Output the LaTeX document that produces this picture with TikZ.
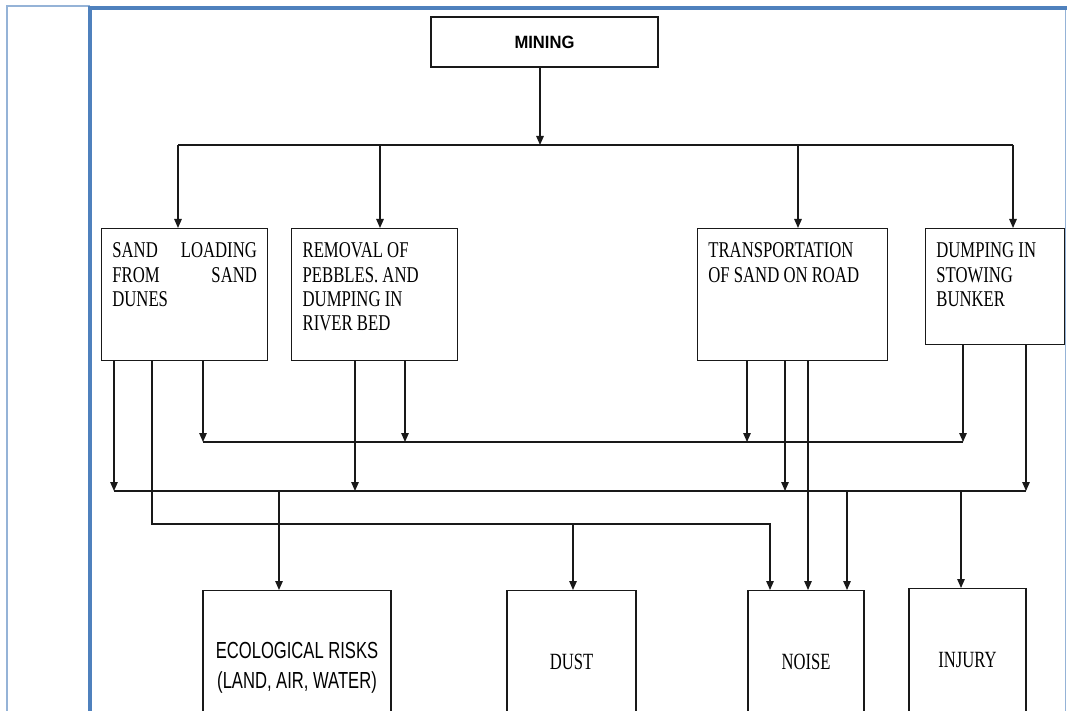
\documentclass[tikz,border=0pt]{standalone}
\usepackage{fontspec}
\setmainfont{Liberation Serif}
\newfontfamily\arialfont{Liberation Sans}
\usetikzlibrary{arrows.meta}
\definecolor{frameblue}{RGB}{79,129,189}
\definecolor{framelight}{RGB}{149,179,215}
\definecolor{linegray}{RGB}{25,25,25}
\newcommand{\topboxtext}[2]{\scalebox{1}[1.35]{\parbox[t]{#1}{\fontsize{16.7}{18.1}\selectfont #2}}}
\newcommand{\serifstretch}[1]{\scalebox{1}[1.4]{\fontsize{16.6}{18}\selectfont #1}}
\tikzset{
  conn/.style={draw=linegray, line width=1.3pt},
  arr/.style={conn, -{Triangle[length=9pt,width=7.5pt]}},
  topbox/.style={draw=linegray, line width=1.3pt, rectangle, anchor=north west,
    inner ysep=0pt, inner xsep=10.7pt, text height=29pt},
  botbox/.style={draw=linegray, line width=1.3pt, rectangle, anchor=north,
    inner sep=0pt, align=center},
  thickframe/.style={draw=frameblue, line width=4pt},
  thinframe/.style={draw=framelight, line width=2pt}
}
\begin{document}
\begin{tikzpicture}[x=1pt, y=-1pt]
\useasboundingbox (0,0) rectangle (1067,711);
\clip (0,0) rectangle (1067,711);
% frame
\draw[thinframe] (7,711) -- (7,6) -- (90,6);
\draw[thinframe, line width=1.5pt] (1065.5,10) -- (1065.5,711);
\draw[thickframe] (90,711) -- (90,8) -- (1067,8);

% nodes
\node[draw=linegray, line width=1.3pt, minimum width=227pt, minimum height=50pt, inner sep=0pt]
  (mining) at (544.5,42) {\scalebox{1}[1.07]{\arialfont\bfseries\fontsize{16.6}{18}\selectfont MINING}};

\node[topbox, text depth=103pt] (b1) at (101,228)
  {\topboxtext{144.6pt}{SAND\hfill LOADING\\ FROM\hfill SAND\\ DUNES}};
\node[topbox, inner xsep=11pt, text depth=103pt] (b2) at (291,228)
  {\topboxtext{144pt}{\raggedright REMOVAL OF\\ PEBBLES. AND\\ DUMPING IN\\ RIVER BED}};
\node[topbox, text depth=103pt] (b3) at (697,228)
  {\topboxtext{168.6pt}{\raggedright TRANSPORTATION\\ OF SAND ON ROAD}};
\node[topbox, text depth=87pt] (b4) at (925,228)
  {\topboxtext{117.6pt}{\raggedright DUMPING IN\\ STOWING\\ BUNKER}};

\node[botbox, minimum width=188pt, minimum height=154pt] (eco) at (297,590)
  {\scalebox{1}[1.4]{\parbox{180pt}{\centering\arialfont\fontsize{16.6}{21.9}\selectfont ECOLOGICAL RISKS\\ (LAND, AIR, WATER)}}};
\node[botbox, minimum width=129pt, minimum height=142pt] (dust) at (571.5,590)
  {\serifstretch{DUST}};
\node[botbox, minimum width=116pt, minimum height=142pt] (noise) at (806,590)
  {\serifstretch{NOISE}};
\node[botbox, minimum width=117pt, minimum height=143pt] (injury) at (967.5,588)
  {\serifstretch{INJURY}};

% top distribution
\coordinate (tb) at (540,145);
\coordinate (tL) at (178,145);
\coordinate (tR) at (1013,145);
\coordinate (t2) at (380,145);
\coordinate (t3) at (798,145);
\draw[arr] (mining.south -| tb) -- (tb);
\draw[conn] (tL) -- (tR);
\draw[arr] (tL) -- (tL |- b1.north);
\draw[arr] (t2) -- (t2 |- b2.north);
\draw[arr] (t3) -- (t3 |- b3.north);
\draw[arr] (tR) -- (tR |- b4.north);

% bus 1
\coordinate (u1) at (203,442);
\coordinate (u2) at (405,442);
\coordinate (u3) at (747,442);
\coordinate (u4) at (963,442);
\draw[conn] (u1) -- (u4);
\draw[arr] (b1.south -| u1) -- (u1);
\draw[arr] (b2.south -| u2) -- (u2);
\draw[arr] (b3.south -| u3) -- (u3);
\draw[arr] (b4.south -| u4) -- (u4);

% bus 2
\coordinate (v1) at (114,491);
\coordinate (v2) at (355,491);
\coordinate (v3) at (785,491);
\coordinate (v4) at (1026,491);
\draw[conn] (v1) -- (v4);
\draw[arr] (b1.south -| v1) -- (v1);
\draw[arr] (b2.south -| v2) -- (v2);
\draw[arr] (b3.south -| v3) -- (v3);
\draw[arr] (b4.south -| v4) -- (v4);
\coordinate (w1) at (279,491);
\coordinate (w2) at (847,491);
\coordinate (w3) at (961,491);
\draw[arr] (w1) -- (w1 |- eco.north);
\draw[arr] (w2) -- (w2 |- noise.north);
\draw[arr] (w3) -- (w3 |- injury.north);

% direct line transport -> noise
\coordinate (x808) at (808,400);
\draw[arr] (b3.south -| x808) -- (noise.north -| x808);

% bus 3
\coordinate (c1) at (152,524);
\coordinate (c2) at (770,524);
\coordinate (c3) at (573,524);
\draw[arr] (b1.south -| c1) -- (c1) -- (c2) -- (c2 |- noise.north);
\draw[arr] (c3) -- (c3 |- dust.north);
\end{tikzpicture}
\end{document}
